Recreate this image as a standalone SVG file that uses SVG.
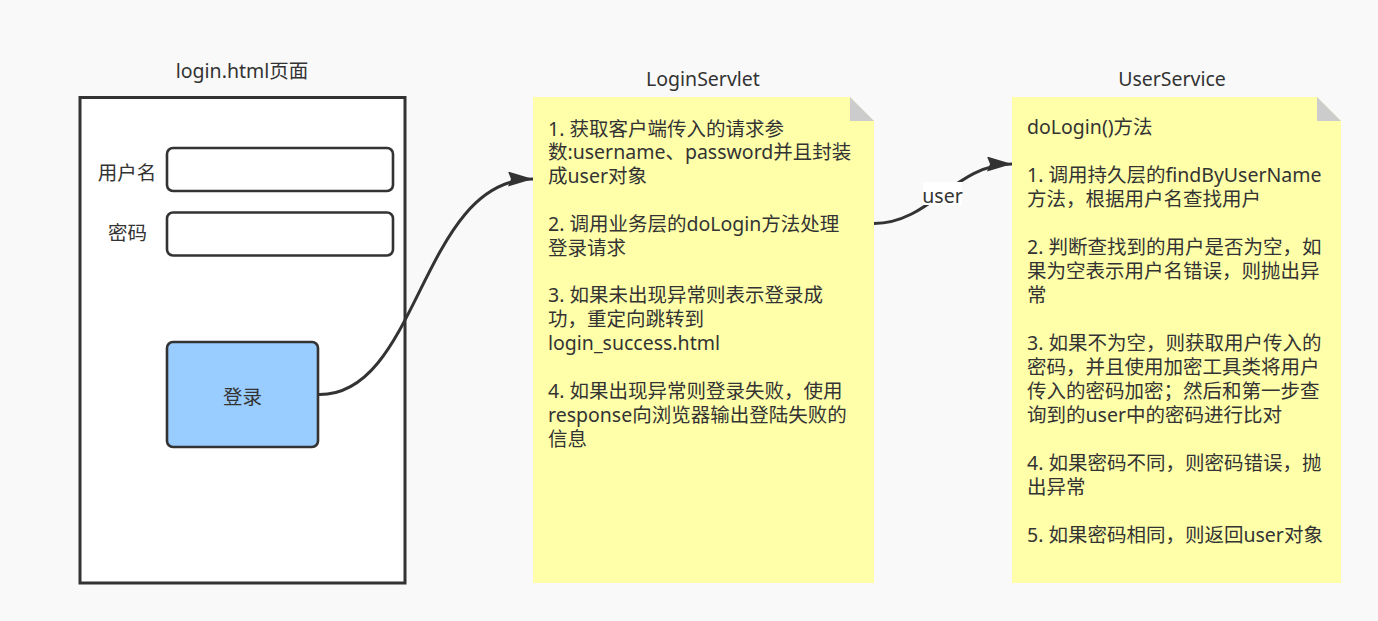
<svg xmlns="http://www.w3.org/2000/svg" width="1378" height="621" viewBox="0 0 1378 621">
<style>
text{font-family:"Noto Sans","Noto Sans CJK SC",sans-serif;font-size:19.5px;fill:#333333}
.c{text-anchor:middle}
.box{fill:#ffffff;stroke:#333333;stroke-width:2.6}
.note{fill:#ffffaa;stroke:none}
.fold{fill:#cccccc;stroke:none}
.edge{fill:none;stroke:#333333;stroke-width:3}
</style>
<defs>
<marker id="arr" markerUnits="userSpaceOnUse" markerWidth="26" markerHeight="16" refX="25" refY="7.5" orient="auto">
<path d="M0,0 L25,7.5 L0,15 L3,7.5 Z" fill="#333333"/>
</marker>
</defs>
<rect width="1378" height="621" fill="#f9f9f9"/>

<g id="login-page">
<text class="c" x="242" y="78">login.html页面</text>
<rect x="80" y="97.5" width="325" height="485.5" fill="#ffffff" stroke="#333333" stroke-width="3"/>
</g>
<g id="label-username"><text class="c" x="127" y="180">用户名</text></g>
<g id="input-username"><rect class="box" x="167" y="148" width="226" height="43" rx="6"/></g>
<g id="label-password"><text class="c" x="127.5" y="240">密码</text></g>
<g id="input-password"><rect class="box" x="167" y="212.5" width="226" height="43" rx="6"/></g>
<g id="btn-login">
<rect x="167" y="342" width="151" height="105" rx="6" fill="#99ccff" stroke="#333333" stroke-width="2.6"/>
<text class="c" x="242.5" y="404">登录</text>
</g>

<g id="login-servlet">
<text class="c" x="703" y="85.5">LoginServlet</text>
<path class="note" d="M533,97 L850,97 L874,121 L874,583 L533,583 Z"/>
<path class="fold" d="M850,97 L874,121 L850,121 Z"/>
<text x="548">
<tspan x="548" y="135.5">1. 获取客户端传入的请求参</tspan>
<tspan x="548" y="159.3">数:username、password并且封装</tspan>
<tspan x="548" y="183.2">成user对象</tspan>
<tspan x="548" y="230.9">2. 调用业务层的doLogin方法处理</tspan>
<tspan x="548" y="254.7">登录请求</tspan>
<tspan x="548" y="302.4">3. 如果未出现异常则表示登录成</tspan>
<tspan x="548" y="326.3">功，重定向跳转到</tspan>
<tspan x="548" y="350.1">login_success.html</tspan>
<tspan x="548" y="397.8">4. 如果出现异常则登录失败，使用</tspan>
<tspan x="548" y="421.7">response向浏览器输出登陆失败的</tspan>
<tspan x="548" y="445.5">信息</tspan>
</text>
</g>

<g id="user-service">
<text class="c" x="1172" y="85.5">UserService</text>
<path class="note" d="M1012,97 L1317,97 L1341,121 L1341,583 L1012,583 Z"/>
<path class="fold" d="M1317,97 L1341,121 L1317,121 Z"/>
<text x="1027">
<tspan x="1027" y="133.7">doLogin()方法</tspan>
<tspan x="1027" y="181.7">1. 调用持久层的findByUserName</tspan>
<tspan x="1027" y="205.7">方法，根据用户名查找用户</tspan>
<tspan x="1027" y="253.7">2. 判断查找到的用户是否为空，如</tspan>
<tspan x="1027" y="277.7">果为空表示用户名错误，则抛出异</tspan>
<tspan x="1027" y="301.7">常</tspan>
<tspan x="1027" y="349.7">3. 如果不为空，则获取用户传入的</tspan>
<tspan x="1027" y="373.7">密码，并且使用加密工具类将用户</tspan>
<tspan x="1027" y="397.7">传入的密码加密；然后和第一步查</tspan>
<tspan x="1027" y="421.7">询到的user中的密码进行比对</tspan>
<tspan x="1027" y="469.7">4. 如果密码不同，则密码错误，抛</tspan>
<tspan x="1027" y="493.7">出异常</tspan>
<tspan x="1027" y="541.7">5. 如果密码相同，则返回user对象</tspan>
</text>
</g>

<g id="connectors">
<path class="edge" d="M318,394.5 C420,397 420,179 533,179" marker-end="url(#arr)"/>
<path class="edge" d="M874,223.5 C930,223.5 955,164 1012,164" marker-end="url(#arr)"/>
<rect x="923" y="182" width="39" height="23" fill="#ffffff"/>
<text class="c" x="942.5" y="202.5">user</text>
</g>
</svg>
